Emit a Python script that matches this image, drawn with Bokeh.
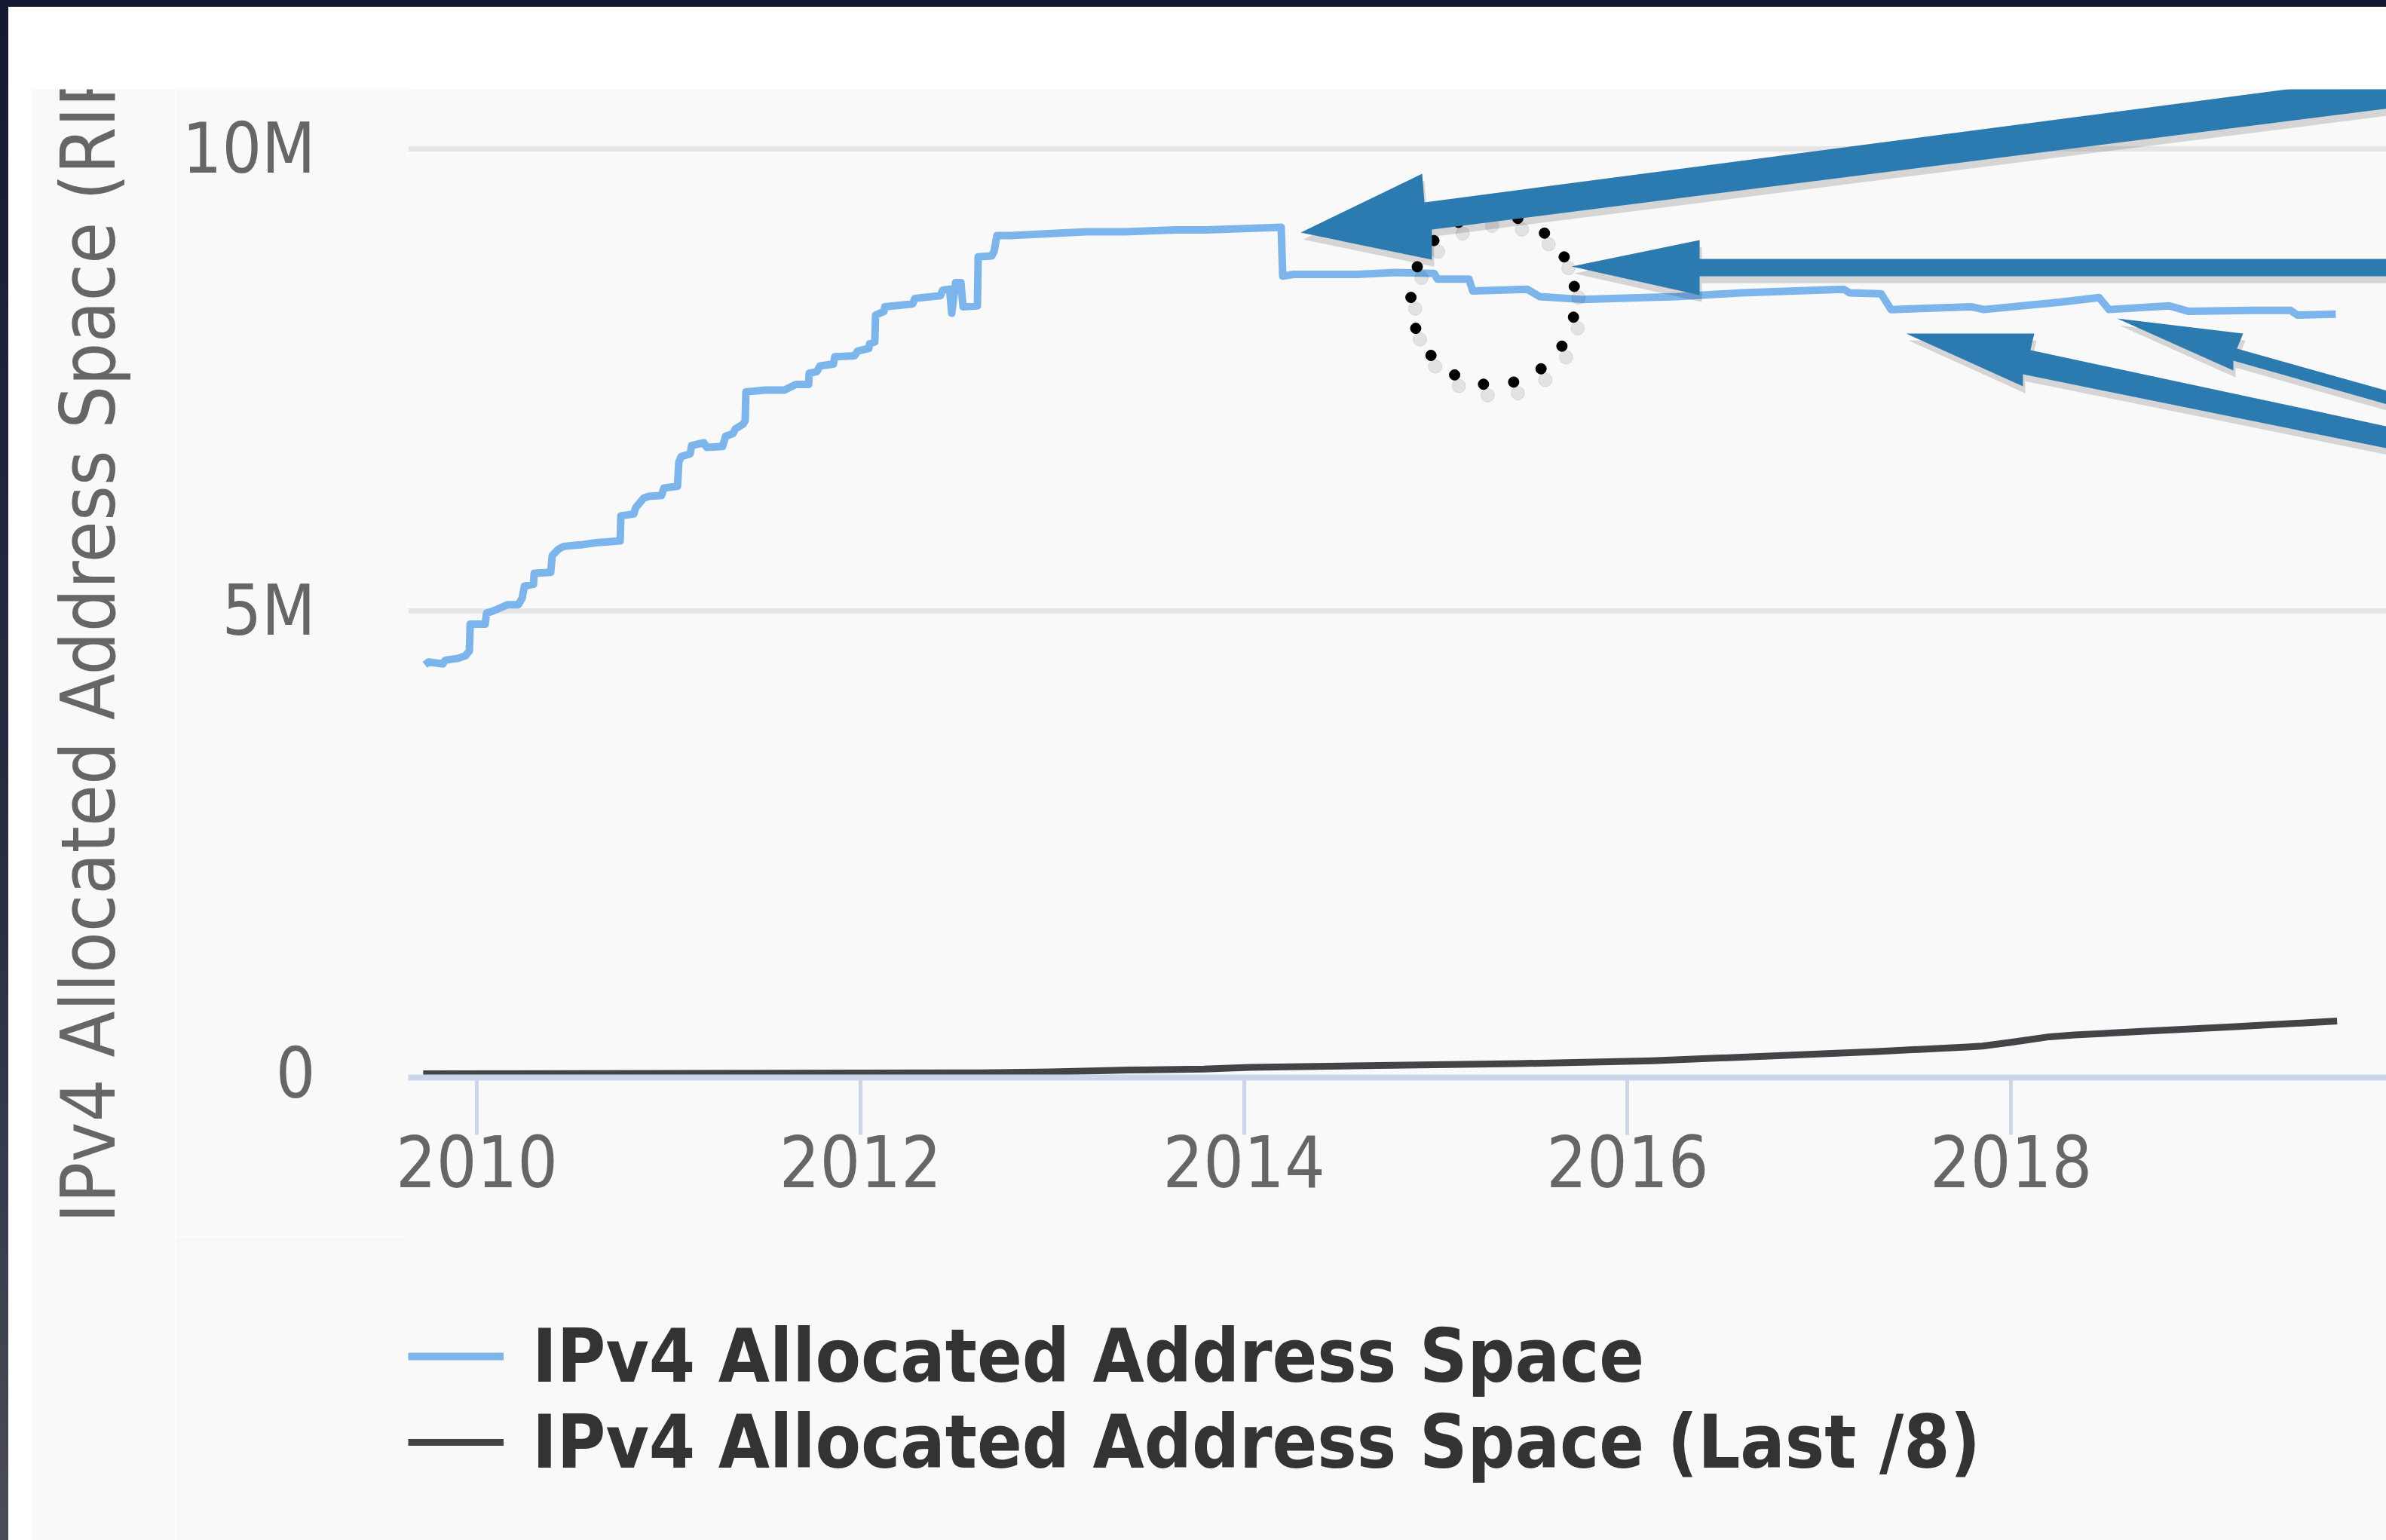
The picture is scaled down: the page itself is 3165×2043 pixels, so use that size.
import numpy as np
from bokeh.plotting import figure
from bokeh.models import FixedTicker, Legend, LegendItem, Label, PolyAnnotation, Range1d, Spacer
from bokeh.layouts import column, row
from bokeh.embed import file_html
from bokeh.resources import INLINE

# ---------------- data ----------------
series_names = ["IPv4 Allocated Address Space", "IPv4 Allocated Address Space (Last /8)"]
y_title = "IPv4 Allocated Address Space (RIPE NCC)"

# fractional years / millions of addresses
alloc_years = [2009.729, 2009.748, 2009.823, 2009.835, 2009.902, 2009.941, 2009.961, 2009.965,
               2010.043, 2010.051, 2010.083, 2010.161, 2010.216, 2010.236, 2010.248, 2010.295,
               2010.299, 2010.385, 2010.393, 2010.425, 2010.452, 2010.554, 2010.621, 2010.747,
               2010.751, 2010.818, 2010.829, 2010.869, 2010.896, 2010.963, 2010.975, 2011.046,
               2011.053, 2011.065, 2011.112, 2011.120, 2011.183, 2011.199, 2011.281, 2011.297,
               2011.336, 2011.348, 2011.388, 2011.399, 2011.403, 2011.502, 2011.604, 2011.663,
               2011.730, 2011.733, 2011.773, 2011.789, 2011.859, 2011.867, 2011.969, 2011.985,
               2012.044, 2012.048, 2012.075, 2012.079, 2012.123, 2012.127, 2012.272, 2012.284,
               2012.417, 2012.429, 2012.465, 2012.476, 2012.496, 2012.524, 2012.535, 2012.610,
               2012.614, 2012.685, 2012.697, 2012.712, 2012.783, 2013.176, 2013.373, 2013.648,
               2013.805, 2014.194, 2014.202, 2014.257, 2014.591, 2014.788, 2014.992, 2015.008,
               2015.173, 2015.193, 2015.476, 2015.542, 2015.759, 2016.258, 2016.592, 2017.127,
               2017.158, 2017.323, 2017.374, 2017.791, 2017.858, 2018.259, 2018.459, 2018.510,
               2018.825, 2018.927, 2019.257, 2019.458, 2019.493, 2019.693]
alloc_values = [4.42, 4.45, 4.43, 4.47, 4.49, 4.52, 4.57, 4.86,
                4.86, 4.98, 5.00, 5.07, 5.07, 5.14, 5.27, 5.29,
                5.41, 5.42, 5.60, 5.67, 5.70, 5.72, 5.74, 5.76,
                6.03, 6.05, 6.12, 6.22, 6.24, 6.25, 6.33, 6.35,
                6.61, 6.67, 6.70, 6.79, 6.82, 6.77, 6.78, 6.89,
                6.92, 6.97, 7.02, 7.06, 7.37, 7.39, 7.39, 7.45,
                7.45, 7.57, 7.59, 7.65, 7.67, 7.75, 7.76, 7.81,
                7.84, 7.89, 7.91, 8.20, 8.24, 8.29, 8.32, 8.38,
                8.41, 8.47, 8.48, 8.22, 8.55, 8.55, 8.29, 8.30,
                8.83, 8.84, 8.89, 9.06, 9.06, 9.10, 9.10, 9.12,
                9.12, 9.15, 8.62, 8.64, 8.64, 8.66, 8.65, 8.59,
                8.59, 8.46, 8.48, 8.40, 8.37, 8.40, 8.44, 8.48,
                8.44, 8.43, 8.26, 8.29, 8.26, 8.34, 8.39, 8.26,
                8.30, 8.24, 8.25, 8.25, 8.20, 8.21]

last8_years = [2009.72, 2012.63, 2013.00, 2013.40, 2013.79, 2014.03, 2014.70, 2015.43,
               2016.13, 2016.83, 2017.30, 2017.77, 2017.85, 2018.00, 2018.20, 2018.33,
               2018.70, 2019.17, 2019.70]
last8_values = [0.00, 0.01, 0.02, 0.04, 0.05, 0.07, 0.09, 0.11,
                0.14, 0.20, 0.24, 0.29, 0.30, 0.34, 0.40, 0.42,
                0.46, 0.51, 0.57]

x_ticks = [2010, 2012, 2014, 2016, 2018]
y_ticks = [0, 5, 10]
y_tick_labels = ["0", "5M", "10M"]

# ---------------- styling ----------------
FONT = "DejaVu Sans Condensed"
BG = "#f9f9f9"
BLUE = "#7cb5ec"
DARK = "#434348"
AXIS = "#ccd6eb"
ARROW = "#2c7bb0"
FRAME_DARK = "#141a33"


def blank_fig(w, h):
    f = figure(width=w, height=h, output_backend="svg", toolbar_location=None, title=None,
               x_axis_type=None, y_axis_type=None, x_range=Range1d(0, 1), y_range=Range1d(0, 1))
    f.min_border = 0
    f.background_fill_color = BG
    f.border_fill_color = BG
    f.outline_line_color = None
    f.grid.visible = False
    return f


# ---------------- main chart ----------------
p = figure(width=2933, height=1522, output_backend="svg", toolbar_location=None, title=None,
           x_range=Range1d(2009.642, 2019.957), y_range=Range1d(-0.0407, 10.64))
p.min_border = 0
p.min_border_left = 309
p.min_border_right = 0
p.min_border_top = 0
p.min_border_bottom = 211
p.background_fill_color = BG
p.border_fill_color = BG
p.outline_line_color = None

xa = p.xaxis[0]
xa.ticker = FixedTicker(ticks=x_ticks)
xa.axis_line_color = AXIS
xa.axis_line_width = 8
xa.major_tick_line_color = AXIS
xa.major_tick_line_width = 5
xa.major_tick_in = 0
xa.major_tick_out = 76
xa.minor_tick_line_color = None
xa.major_label_standoff = 0
xa.major_label_text_font = FONT
xa.major_label_text_font_size = "94px"
xa.major_label_text_color = "#666666"

ya = p.yaxis[0]
ya.ticker = FixedTicker(ticks=y_ticks)
ya.major_label_overrides = dict(zip(y_ticks, y_tick_labels))
ya.axis_line_color = None
ya.major_tick_line_color = None
ya.minor_tick_line_color = None
ya.major_tick_in = 0
ya.major_tick_out = 0
ya.major_label_standoff = 123
ya.major_label_text_font = FONT
ya.major_label_text_font_size = "92px"
ya.major_label_text_color = "#666666"

p.xgrid.visible = False
p.ygrid.ticker = FixedTicker(ticks=[t for t in y_ticks if t > 0])
p.ygrid.grid_line_color = "#e6e6e6"
p.ygrid.grid_line_width = 7

r_alloc = p.line(alloc_years, alloc_values, line_color=BLUE, line_width=10, line_join="round")
r_last8 = p.line(last8_years, last8_values, line_color=DARK, line_width=9, line_join="round")

# ---------------- hand-drawn annotations ----------------
c_x, c_y, r_x, r_y = 2015.299, 8.367, 0.4285, 0.9206
theta = np.deg2rad(8.9 + 21.2 * np.arange(17))
dot_x = c_x + r_x * np.cos(theta)
dot_y = c_y + r_y * np.sin(theta)
p.scatter(dot_x + 0.022, dot_y - 0.12, size=18, color="#000000", alpha=0.09)
p.scatter(dot_x, dot_y, size=14, color="#000000")

arrows = [
    ([2014.296, 2014.929, 2014.941, 2019.976, 2019.976, 2014.980, 2014.980],
     [9.092, 9.727, 9.418, 10.786, 10.436, 9.124, 8.798]),
    ([2015.708, 2016.376, 2016.376, 2019.976, 2019.976, 2016.376, 2016.376],
     [8.725, 9.010, 8.807, 8.807, 8.619, 8.619, 8.415]),
    ([2018.553, 2019.210, 2019.178, 2019.976, 2019.976, 2019.159, 2019.159],
     [8.163, 8.000, 7.837, 7.373, 7.226, 7.707, 7.601]),
    ([2017.453, 2018.121, 2018.101, 2019.976, 2019.976, 2018.062, 2018.062],
     [8.000, 8.000, 7.821, 6.990, 6.754, 7.560, 7.430]),
]
for xs, ys in arrows:
    p.add_layout(PolyAnnotation(xs=[x + 0.012 for x in xs], ys=[y - 0.075 for y in ys],
                                fill_color="#000000", fill_alpha=0.14, line_color=None,
                                level="overlay"))
for xs, ys in arrows:
    p.add_layout(PolyAnnotation(xs=xs, ys=ys, fill_color=ARROW, fill_alpha=1.0,
                                line_color=None, level="overlay"))

# ---------------- y-axis title (clipped at the top, as in the screenshot) ----------------
t_fig = blank_fig(190, 1925)
t_fig.add_layout(Label(x=75, y=421, x_units="screen", y_units="screen", text=y_title,
                       angle=np.pi / 2, text_align="left", text_baseline="middle",
                       text_font=FONT, text_font_size="100px", text_color="#666666"))

# ---------------- legend below the chart ----------------
# (its frame is aligned with the main chart's frame by the column layout)
l_fig = blank_fig(2933, 403)
g_alloc = l_fig.line([-5, -4], [-5, -4], line_color=BLUE, line_width=10)
g_last8 = l_fig.line([-5, -4], [-5, -4], line_color=DARK, line_width=9)
legend = Legend(items=[LegendItem(label=series_names[0], renderers=[g_alloc]),
                       LegendItem(label=series_names[1], renderers=[g_last8])],
                location=(0, 73), orientation="vertical",
                glyph_width=127, glyph_height=40, label_standoff=38, spacing=-2,
                padding=0, margin=0, border_line_color=None, background_fill_alpha=0,
                label_text_font=FONT, label_text_font_style="bold",
                label_text_font_size="98px", label_text_color="#333333")
l_fig.add_layout(legend)

dark = {"background-color": FRAME_DARK}
dark_grad = {"background": "linear-gradient(#141a33, #2a2f45 60%, #4a4c57)"}
layout = column(
    Spacer(width=3165, height=9, styles=dark),
    row(Spacer(width=11, height=2034, styles=dark_grad),
        column(Spacer(width=3154, height=109),
               row(Spacer(width=31, height=1925), t_fig, column(p, l_fig)))))

open("out.html", "w").write(file_html(layout, INLINE))
